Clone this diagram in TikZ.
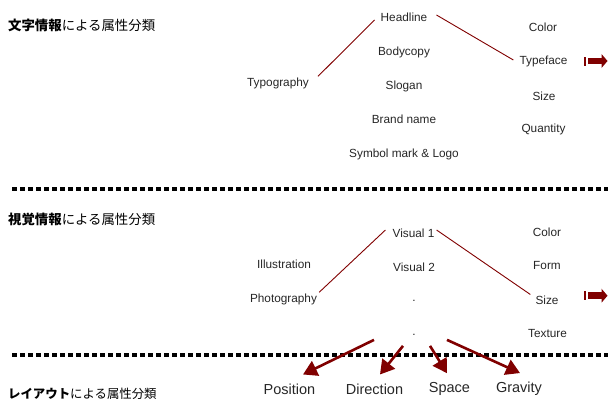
\documentclass[tikz,border=0pt]{standalone}
\usepackage{fontspec}
\setmainfont{Liberation Sans}
\newfontfamily\cjk{Noto Sans CJK JP}
\usetikzlibrary{arrows.meta,calc}
\definecolor{darkmaroon}{RGB}{128,0,0}
\begin{document}
\begin{tikzpicture}[x=1pt,y=-1pt,
  lbl/.style={font=\fontsize{11.8}{13}\selectfont, inner sep=1pt, text=black!85},
  biglbl/.style={font=\fontsize{14.5}{16}\selectfont, inner sep=1pt, text=black!85},
  sectitle/.style={font=\cjk\fontsize{13.4}{15}\selectfont, anchor=west, inner sep=0pt},
  link/.style={draw=darkmaroon, line width=0.9pt},
  fatarrow/.style={draw=darkmaroon, line width=2.6pt, -{Triangle[length=14pt,width=16pt]}},
  dotline/.style={line width=4pt, dash pattern=on 4.5pt off 3.5pt},
  blockarrow/.style={fill=darkmaroon},
]
\useasboundingbox (0,0) rectangle (608,400);

% section titles
\node[sectitle] (t1) at (8,25) {\textbf{文字情報}による属性分類};
\node[sectitle] (t2) at (8,219) {\textbf{視覚情報}による属性分類};
\node[sectitle, font=\cjk\fontsize{12.4}{14}\selectfont] (t3) at (8,393.5) {\textbf{レイアウト}による属性分類};

% dotted separators
\draw[dotline] (12,189) -- (608,189);
\draw[dotline] (12,354.5) -- (608,354.5);

% section 1
\node[lbl] (head) at (404,17) {Headline};
\node[lbl] (body) at (404,52) {Bodycopy};
\node[lbl] (slogan) at (404,86) {Slogan};
\node[lbl] (brand) at (404,119) {Brand name};
\node[lbl] (symbol) at (404,154) {Symbol mark \& Logo};
\node[lbl] (typo) at (278,83) {Typography};
\node[lbl] (colorA) at (543,27) {Color};
\node[lbl] (typeface) at (543.5,61) {Typeface};
\node[lbl] (sizeA) at (544,96) {Size};
\node[lbl] (quantity) at (543.5,129) {Quantity};

\draw[link] ($(typo.north east)+(8,0)$) -- ($(head.west)+(-5,3)$);
\draw[link] ($(head.east)+(8,-2)$) -- ($(typeface.west)+(-5,-1)$);

% section 2
\node[lbl] (vis1) at (413.5,233) {Visual 1};
\node[lbl] (vis2) at (414,267) {Visual 2};
\node[lbl, anchor=base] (dotA) at (414,301.5) {.};
\node[lbl, anchor=base] (dotB) at (414,335.5) {.};
\node[lbl] (illus) at (284,264) {Illustration};
\node[lbl] (photo) at (283.5,299) {Photography};
\node[lbl] (colorB) at (547,232) {Color};
\node[lbl] (form) at (547,265) {Form};
\node[lbl] (sizeB) at (547,300) {Size};
\node[lbl] (texture) at (547.5,333) {Texture};

\draw[link] ($(photo.north east)+(1,0)$) -- ($(vis1.west)+(-6,-3)$);
\draw[link] ($(vis1.east)+(1,-3)$) -- ($(sizeB.north west)+(-4,0)$);

% block arrows
\fill[blockarrow] (584,56.5) rectangle (586.3,65.5);
\fill[blockarrow] (587.5,57.6) rectangle (602,64.4);
\fill[blockarrow] (601.5,54) -- (607.5,61) -- (601.5,68) -- cycle;
\fill[blockarrow] (584,291.2) rectangle (586.3,300.2);
\fill[blockarrow] (587.5,292.3) rectangle (602,299.1);
\fill[blockarrow] (601.5,288.7) -- (607.5,295.7) -- (601.5,302.7) -- cycle;

% section 3
\node[biglbl] (pos) at (289.5,389) {Position};
\node[biglbl] (dir) at (374.5,389) {Direction};
\node[biglbl] (space) at (449.5,389) {Space};
\node[biglbl] (grav) at (519,389) {Gravity};

\draw[fatarrow] ($(dotB)+(-40,5)$) -- ($(pos.north)+(13.5,-8)$);
\draw[fatarrow] ($(dotB)+(-11,11)$) -- ($(dir.north)+(5.5,-8)$);
\draw[fatarrow] ($(dotB)+(16,11)$) -- ($(space.north)+(-2.5,-8)$);
\draw[fatarrow] ($(dotB)+(33,5)$) -- ($(grav.north)+(1,-8)$);
\end{tikzpicture}
\end{document}
